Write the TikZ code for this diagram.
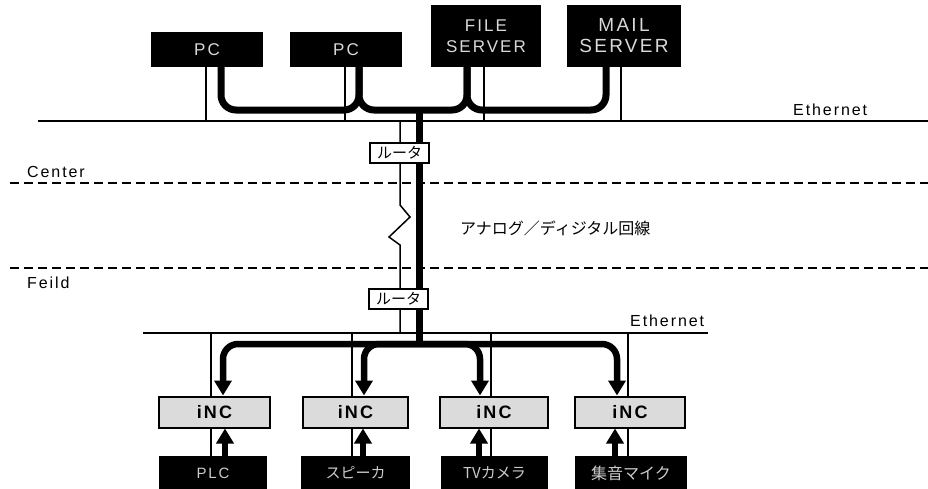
\documentclass[tikz,border=0pt]{standalone}
\usepackage{fontspec}
\setmainfont{Liberation Sans}
\newfontfamily\lat[LetterSpace=12]{Liberation Sans}
\newfontfamily\jp{Noto Sans CJK JP}
\usetikzlibrary{arrows.meta}
\tikzset{
  darkbox/.style={draw=black, line width=1.5pt, fill=black, text=white!85!black, align=center, inner sep=0pt, font=\lat\fontsize{17}{17}\selectfont},
  incbox/.style={draw=black, line width=2pt, fill=black!14, inner sep=0pt, font=\lat\bfseries\fontsize{18}{18}\selectfont},
  devbox/.style={draw=black, line width=1.5pt, fill=black, text=white!80!black, inner sep=0pt},
  router/.style={draw=black, line width=1.8pt, fill=white, inner sep=0pt, minimum width=59pt, minimum height=20pt, font=\jp\fontsize{15}{15}\selectfont},
  ethline/.style={line width=2pt},
  thinline/.style={line width=1.5pt},
  zoneline/.style={line width=2pt, dash pattern=on 9pt off 5pt},
  bus/.style={line width=7pt, rounded corners=15pt},
  downarrow/.style={line width=6.5pt, rounded corners=15pt, -{Triangle[width=17pt,length=15pt]}},
  uparrow/.style={line width=6pt, -{Triangle[width=17pt,length=15pt]}},
  lbl/.style={inner sep=0pt, font=\lat\fontsize{16}{16}\selectfont},
}
\begin{document}
\begin{tikzpicture}[x=1pt,y=-1pt]
\useasboundingbox (0,0) rectangle (928,488);

% zone lines and labels
\coordinate (cL) at (10,183); \coordinate (cR) at (928,183);
\coordinate (fL) at (10,268); \coordinate (fR) at (928,268);
\draw[zoneline] (cL) -- (cR);
\draw[zoneline] (fL) -- (fR);
\node[lbl, anchor=west] (center) at (27,172) {Center};
\node[lbl, anchor=west] (feild) at (27,283) {Feild};
\node[inner sep=0pt, anchor=west, font=\jp\fontsize{16}{16}\selectfont] (line) at (460,228) {アナログ／ディジタル回線};

% top nodes
\node[darkbox, minimum width=110pt, minimum height=33pt] (pc1) at (207,49.5) {PC};
\node[darkbox, minimum width=110pt, minimum height=33pt] (pc2) at (346,49.5) {PC};
\node[darkbox, minimum width=108pt, minimum height=60pt, font=\lat\fontsize{17}{21}\selectfont] (file) at (486,36) {FILE\\SERVER};
\node[darkbox, minimum width=112pt, minimum height=60pt, font=\lat\fontsize{19}{21}\selectfont] (mail) at (624,36) {MAIL\\SERVER};

% top ethernet
\coordinate (etL) at (38,121); \coordinate (etR) at (928,121);
\draw[ethline] (etL) -- (etR);
\node[lbl, anchor=south west] (eth1) at (793,116) {Ethernet};

% thin drops top
\coordinate (t1) at (206,121); \coordinate (t2) at (345,121);
\coordinate (t3) at (484,121); \coordinate (t4) at (621,121);
\draw[thinline] (t1 |- pc1.south) -- (t1);
\draw[thinline] (t2 |- pc2.south) -- (t2);
\draw[thinline] (t3 |- file.south) -- (t3);
\draw[thinline] (t4 |- mail.south) -- (t4);

% bottom ethernet
\coordinate (ebL) at (143,333); \coordinate (ebR) at (708,333);
\draw[ethline] (ebL) -- (ebR);
\node[lbl, anchor=south west] (eth2) at (630,327) {Ethernet};

% thin trunk end points
\coordinate (rt) at (400,121);
\coordinate (rb) at (400,333);

% thin drops bottom
\coordinate (b1) at (211,333); \coordinate (b2) at (352,333);
\coordinate (b3) at (491,333); \coordinate (b4) at (628,333);
\coordinate (d1) at (211,489); \coordinate (d2) at (352,489);
\coordinate (d3) at (491,489); \coordinate (d4) at (628,489);
\draw[thinline] (b1) -- (d1);
\draw[thinline] (b2) -- (d2);
\draw[thinline] (b3) -- (d3);
\draw[thinline] (b4) -- (d4);

% thin trunk with zigzag
\draw[thinline] (rt) -- (400,205) -- (410,217) -- (389,237) -- (400,245) -- (rb);

% top thick bus
\coordinate (p1) at (221,110); \coordinate (p2) at (359,110);
\coordinate (p3) at (467,110); \coordinate (p4) at (606,110);
\draw[bus] (p1 |- pc1.south) -- (p1) -- (p2) -- (p2 |- pc2.south);
\draw[bus] (p2 |- pc2.south) -- (p2) -- (p3) -- (p3 |- file.south);
\draw[bus] (p3 |- file.south) -- (p3) -- (p4) -- (p4 |- mail.south);

% trunk
\coordinate (tt) at (419,110);
\coordinate (tb) at (419,344);
\draw[line width=7pt] (tt) -- (tb);

% routers on top of trunk
\node[router] (r1) at (399.5,153) {ルータ};
\node[router] (r2) at (398.5,299) {ルータ};

% bottom nodes
\node[incbox, minimum width=111pt, minimum height=31pt] (inc1) at (214.5,412) {iNC};
\node[incbox, minimum width=105pt, minimum height=31pt] (inc2) at (355.5,412) {iNC};
\node[incbox, minimum width=108pt, minimum height=31pt] (inc3) at (494,412) {iNC};
\node[incbox, minimum width=110pt, minimum height=31pt] (inc4) at (630,412) {iNC};

\node[devbox, minimum width=106pt, minimum height=32pt, font=\lat\fontsize{15}{15}\selectfont] (dev1) at (213,473) {PLC};
\node[devbox, minimum width=107pt, minimum height=32pt, font=\jp\fontsize{15}{15}\selectfont] (dev2) at (355.5,473) {スピーカ};
\node[devbox, minimum width=105pt, minimum height=32pt, font=\jp\fontsize{15}{15}\selectfont] (dev3) at (494.5,473) {TVカメラ};
\node[devbox, minimum width=111pt, minimum height=32pt, font=\jp\fontsize{16}{16}\selectfont] (dev4) at (631,473) {集音マイク};

% bottom branches
\coordinate (a1) at (223,344); \coordinate (a2) at (364,344);
\coordinate (a3) at (480,344); \coordinate (a4) at (617,344);
\draw[downarrow] (tb) -- (a1) -- (a1 |- inc1.north);
\draw[downarrow] (tb) -- (a2) -- (a2 |- inc2.north);
\draw[downarrow] (tb) -- (a3) -- (a3 |- inc3.north);
\draw[downarrow] (tb) -- (a4) -- (a4 |- inc4.north);

% up arrows
\coordinate (u1) at (225,457); \coordinate (u2) at (363,457);
\coordinate (u3) at (479,457); \coordinate (u4) at (615,457);
\draw[uparrow] (dev1.north -| u1) -- (inc1.south -| u1);
\draw[uparrow] (dev2.north -| u2) -- (inc2.south -| u2);
\draw[uparrow] (dev3.north -| u3) -- (inc3.south -| u3);
\draw[uparrow] (dev4.north -| u4) -- (inc4.south -| u4);
\end{tikzpicture}
\end{document}
